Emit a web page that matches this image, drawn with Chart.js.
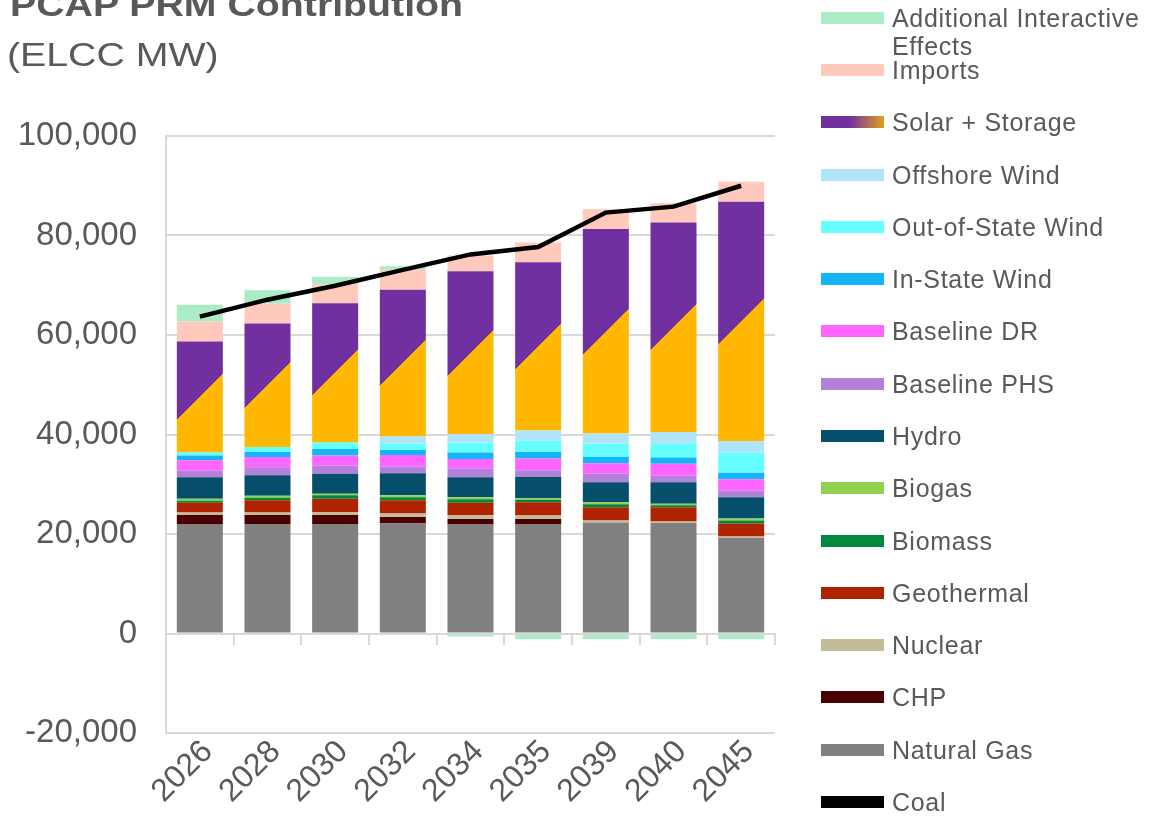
<!DOCTYPE html>
<html>
<head>
<meta charset="utf-8">
<title>PCAP PRM Contribution</title>
<script src="https://cdn.jsdelivr.net/npm/chart.js@4.4.1/dist/chart.umd.min.js"></script>
<style>
  html, body { margin: 0; padding: 0; background: #fff; overflow: hidden; }
  #wrap { position: relative; width: 1167px; height: 830px; font-family: "Liberation Sans", Arial, sans-serif; color: #595959; }
  #chart { position: absolute; left: 0; top: 0; }
  .title { position: absolute; left: 10px; font-size: 33px; line-height: 33px; white-space: nowrap; transform: scaleX(1.19); transform-origin: left top; }
  #t1 { top: -12px; font-weight: bold; }
  #t2 { top: 38px; left: 7px; }
  .item { position: absolute; left: 821px; }
  .box { position: absolute; left: 0; top: -6px; width: 63px; height: 12px; }
  .lbl { position: absolute; left: 71px; top: -14px; font-size: 25px; line-height: 28px; letter-spacing: 0.7px; white-space: nowrap; }
</style>
</head>
<body>
<div id="wrap">
  <canvas id="chart" width="1167" height="830"></canvas>
  <div class="title" id="t1">PCAP PRM Contribution</div>
  <div class="title" id="t2">(ELCC MW)</div>
  <div id="legend"></div>
</div>
<script>
// ELCC contribution by resource, MW
const years = ['2026', '2028', '2030', '2032', '2034', '2035', '2039', '2040', '2045'];

const coal         = [0, 0, 0, 0, 0, 0, 0, 0, 0];
const naturalGas   = [22000, 22000, 22000, 22100, 22000, 22000, 22300, 22200, 19200];
const chp          = [1800, 1800, 1800, 1300, 1000, 1000, 0, 0, 0];
const nuclear      = [500, 500, 600, 700, 800, 700, 400, 300, 300];
const geothermal   = [2000, 2500, 2700, 2700, 2500, 2700, 2700, 2900, 2600];
const biomass      = [400, 500, 700, 600, 700, 500, 600, 400, 600];
const biogas       = [400, 400, 300, 400, 400, 300, 400, 300, 400];
const hydro        = [4300, 4100, 4000, 4400, 4000, 4300, 4000, 4300, 4300];
const baselinePhs  = [1300, 1600, 1600, 1300, 1700, 1300, 1700, 1300, 1300];
const baselineDr   = [2100, 2100, 2100, 2400, 2000, 2400, 2100, 2400, 2300];
const inStateWind  = [1000, 1000, 1300, 1000, 1300, 1300, 1300, 1300, 1300];
const outStateWind = [600, 1000, 1300, 1300, 2000, 2300, 2700, 2700, 4100];
const offshoreWind = [0, 0, 0, 1400, 1700, 2000, 2000, 2400, 2300];
const solarStorage = [22300, 24800, 28000, 29500, 32700, 33800, 41100, 42100, 48100];
const imports      = [4000, 4000, 3800, 4000, 3200, 4000, 4000, 3900, 4000];
const interactive  = [3400, 2700, 1500, 700, -600, -1100, -1100, -1100, -1100];

// PRM requirement line
const prmTarget    = [63700, 67100, 69900, 73100, 76200, 77700, 84600, 85800, 90000];

const yTicks = { min: -20000, max: 100000, step: 20000 };

const textGrey = '#595959';
const gridGrey = '#d9d9d9';
const solarPurple = '#7030a0';
const storageGold = '#ffb700';

// bottom of the stack first
const series = [
  { label: 'Coal', data: coal, color: '#000000' },
  { label: 'Natural Gas', data: naturalGas, color: '#808080' },
  { label: 'CHP', data: chp, color: '#4a0000' },
  { label: 'Nuclear', data: nuclear, color: '#c4bc96' },
  { label: 'Geothermal', data: geothermal, color: '#ae2300' },
  { label: 'Biomass', data: biomass, color: '#00883e' },
  { label: 'Biogas', data: biogas, color: '#92d050' },
  { label: 'Hydro', data: hydro, color: '#054f6c' },
  { label: 'Baseline PHS', data: baselinePhs, color: '#b381d9' },
  { label: 'Baseline DR', data: baselineDr, color: '#ff66ff' },
  { label: 'In-State Wind', data: inStateWind, color: '#14b4f6' },
  { label: 'Out-of-State Wind', data: outStateWind, color: '#66ffff' },
  { label: 'Offshore Wind', data: offshoreWind, color: '#b0e4f8' },
  { label: 'Solar + Storage', data: solarStorage, color: solarPurple, split: true },
  { label: 'Imports', data: imports, color: '#ffc9bb' },
  { label: 'Additional Interactive Effects', data: interactive, color: '#abebc6' }
];

const barSets = series.map(s => ({
  type: 'bar',
  label: s.label,
  data: s.data,
  split: !!s.split,
  // scriptable so each bar keeps its own options object
  backgroundColor: () => s.color,
  borderWidth: 0,
  barPercentage: 0.68,
  categoryPercentage: 1.0
}));

const lineSet = {
  type: 'line',
  label: 'PRM',
  data: prmTarget,
  borderColor: '#000000',
  borderWidth: 4.5,
  pointRadius: 0,
  fill: false,
  tension: 0,
  order: -1
};

// solar + storage: purple / gold split along a 45 degree line through the bar centre
const solarSplit = {
  id: 'solarSplit',
  beforeDatasetDraw(chart, args) {
    const ds = chart.data.datasets[args.index];
    if (!ds.split) return;
    const ctx = chart.ctx;
    args.meta.data.forEach(bar => {
      const p = bar.getProps(['x', 'y', 'base'], true);
      const cy = (p.y + p.base) / 2;
      const g = ctx.createLinearGradient(p.x - 10, cy - 10, p.x + 10, cy + 10);
      g.addColorStop(0, solarPurple);
      g.addColorStop(0.5, solarPurple);
      g.addColorStop(0.5, storageGold);
      g.addColorStop(1, storageGold);
      bar.options = Object.assign({}, bar.options, { backgroundColor: g });
    });
  }
};

const font = { family: '"Liberation Sans", Arial, sans-serif', size: 33 };

const config = {
  type: 'bar',
  data: { labels: years, datasets: [lineSet].concat(barSets) },
  options: {
    responsive: false,
    animation: false,
    layout: { padding: { left: 0, top: 136, right: 392, bottom: 0 } },
    plugins: { legend: { display: false }, tooltip: { enabled: false } },
    scales: {
      x: {
        stacked: true,
        grid: { display: false },
        border: { display: false },
        ticks: {
          color: textGrey,
          font: { family: font.family, size: 32 },
          minRotation: 45,
          maxRotation: 45,
          autoSkip: false,
          padding: -8,
          labelOffset: 8
        },
        afterFit(scale) { scale.height = 97; }
      },
      x2: {
        type: 'category',
        position: { y: 0 },
        offset: true,
        grid: { offset: true, drawOnChartArea: false, drawTicks: true, tickLength: 10, color: gridGrey, lineWidth: 2 },
        border: { display: true, color: gridGrey, width: 2 },
        ticks: { display: false }
      },
      y: {
        stacked: true,
        min: yTicks.min,
        max: yTicks.max,
        ticks: {
          stepSize: yTicks.step,
          color: textGrey,
          font: font,
          padding: 29,
          callback: v => v.toLocaleString('en-US')
        },
        grid: { color: gridGrey, lineWidth: 2, drawTicks: false },
        border: { display: true, color: gridGrey, width: 2 },
        afterFit(scale) { scale.width = 166; }
      }
    }
  },
  plugins: [solarSplit]
};

new Chart(document.getElementById('chart'), config);

// legend, top of the stack first
const legendEl = document.getElementById('legend');
series.slice().reverse().forEach((s, i) => {
  const item = document.createElement('div');
  item.className = 'item';
  item.style.top = (17.8 + 52.28 * i) + 'px';
  const box = document.createElement('div');
  box.className = 'box';
  box.style.background = s.split
    ? 'linear-gradient(to right, ' + solarPurple + ' 45%, #e0a020 100%)'
    : s.color;
  const lbl = document.createElement('div');
  lbl.className = 'lbl';
  lbl.innerHTML = s.label === 'Additional Interactive Effects'
    ? 'Additional Interactive<br>Effects'
    : s.label;
  item.appendChild(box);
  item.appendChild(lbl);
  legendEl.appendChild(item);
});
</script>
</body>
</html>
